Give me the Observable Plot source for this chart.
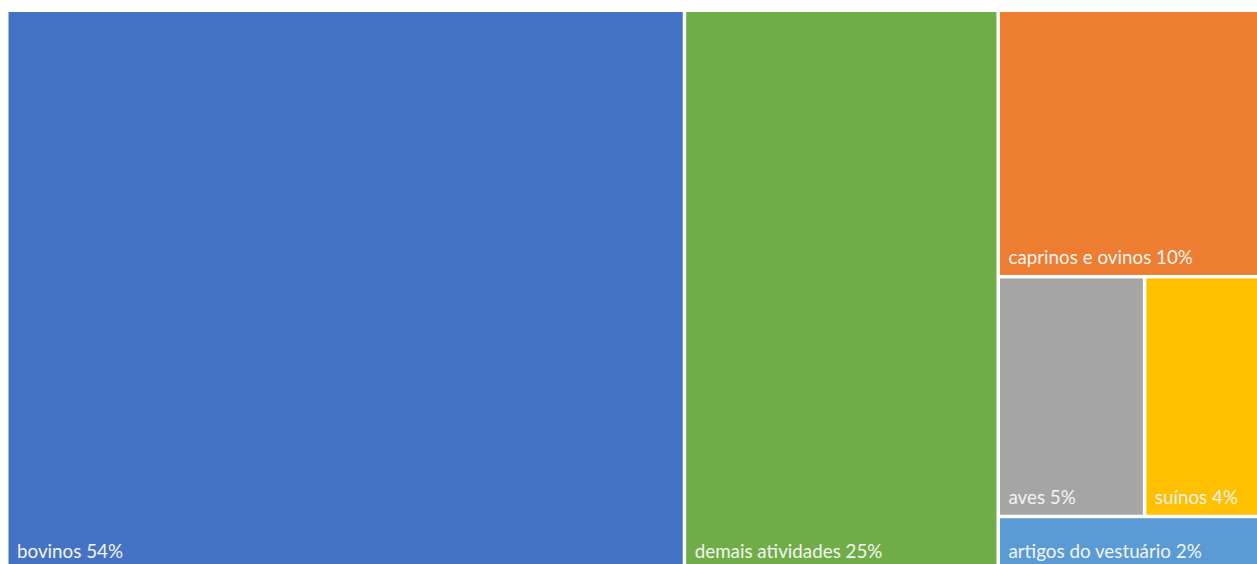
<!DOCTYPE html>
<html>
<head>
<meta charset="utf-8">
<script src="https://cdn.jsdelivr.net/npm/d3@7"></script>
<script src="https://cdn.jsdelivr.net/npm/@observablehq/plot@0.6"></script>
<style>
  html, body { margin: 0; padding: 0; background: #fff; overflow: hidden; }
  #chart svg { display: block; }
</style>
</head>
<body>
<div id="chart"></div>
<script>
// Data
const categories = ["bovinos", "demais atividades", "caprinos e ovinos", "aves", "suínos", "artigos do vestuário"];
const shares = [54, 25, 10, 5, 4, 2];
const colors = ["#4472C4", "#70AD47", "#ED7D31", "#A5A5A5", "#FFC000", "#5B9BD5"];

// Squarified tiling (rows grown while the mean aspect ratio of the row improves)
function squarifyTile(parent, x0, y0, x1, y1) {
  const nodes = parent.children;
  let value = parent.value;
  let i0 = 0;
  while (i0 < nodes.length) {
    const dx = x1 - x0, dy = y1 - y0;
    const wide = dx >= dy;
    const side = wide ? dy : dx;
    const scale = (dx * dy) / value;
    const meanAspect = (items) => {
      const sum = d3.sum(items, d => d.value);
      const t = (sum * scale) / side;
      return d3.mean(items, d => {
        const len = (d.value * scale) / t;
        return Math.max(len / t, t / len);
      });
    };
    let i1 = i0 + 1;
    let best = meanAspect(nodes.slice(i0, i1));
    while (i1 < nodes.length) {
      const r = meanAspect(nodes.slice(i0, i1 + 1));
      if (r > best) break;
      best = r; i1++;
    }
    const sum = d3.sum(nodes.slice(i0, i1), d => d.value);
    const row = {value: sum, children: nodes.slice(i0, i1)};
    const t = (sum * scale) / side;
    if (wide) {
      d3.treemapSlice(row, x0, y0, x0 + t, y1);
      x0 += t;
    } else {
      d3.treemapDice(row, x0, y0, x1, y0 + t);
      y0 += t;
    }
    value -= sum;
    i0 = i1;
  }
}

const W = 1251.5, H = 556;
const root = d3.hierarchy({children: categories.map((c, i) => ({name: c, value: shares[i]}))})
  .sum(d => d.value || 0);
d3.treemap()
  .tile(squarifyTile)
  .size([W, H])
  .paddingInner(3.5)
  .round(false)(root);

const cells = root.leaves().map(n => ({
  name: n.data.name,
  label: `${n.data.name} ${n.data.value}%`,
  x0: n.x0, x1: n.x1, y0: n.y0, y1: n.y1
}));

const chart = Plot.plot({
  width: 1257,
  height: 564,
  margin: 0,
  style: {background: "#fff", overflow: "hidden"},
  x: {domain: [0, W], range: [8.5, 8.5 + W], axis: null},
  y: {domain: [0, H], range: [12, 12 + H], axis: null},
  color: {domain: categories, range: colors},
  marks: [
    Plot.rect(cells, {x1: "x0", x2: "x1", y1: "y0", y2: "y1", fill: "name"}),
    Plot.text(cells, {
      x: "x0", y: "y1", text: "label",
      dx: 8, dy: -11,
      textAnchor: "start", lineAnchor: "bottom",
      fill: "#f4f4f4", fontSize: 18.8, fontFamily: "Lato"
    })
  ]
});
document.getElementById("chart").append(chart);
</script>
</body>
</html>
